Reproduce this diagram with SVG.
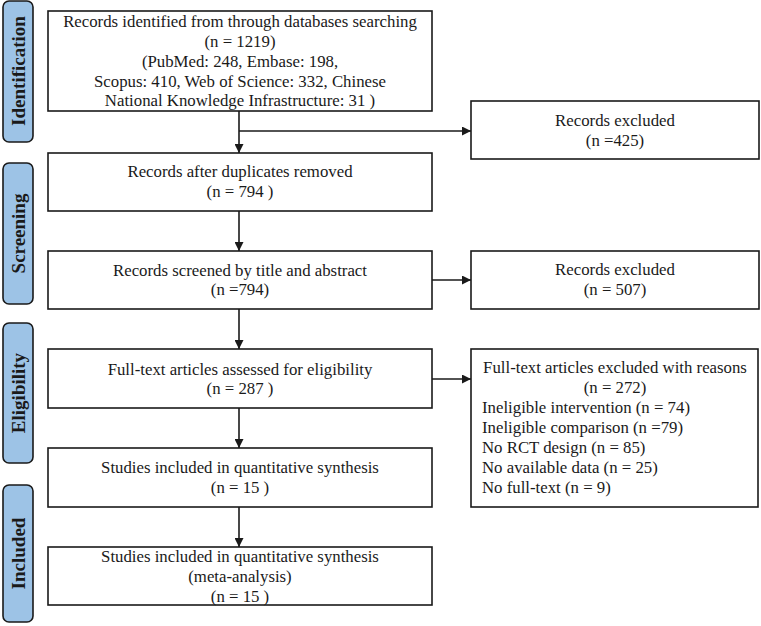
<svg xmlns="http://www.w3.org/2000/svg" width="761" height="626" viewBox="0 0 761 626">
<defs>
<style>
.box{fill:#fff;stroke:#1a1a1a;stroke-width:1.6}
.bar{fill:#9DC3E6;stroke:#1a1a1a;stroke-width:1.6}
.t{font-family:"Liberation Serif","Times New Roman",serif;font-size:16.8px;fill:#1a1a1a}
.c{text-anchor:middle}
.bt{font-family:"Liberation Serif","Times New Roman",serif;font-size:19px;font-weight:bold;fill:#1a1a1a;text-anchor:middle}
.ln{fill:none;stroke:#1a1a1a;stroke-width:1.6}
</style>
<marker id="ah" viewBox="0 0 10 10" refX="10" refY="5" markerWidth="9" markerHeight="9" markerUnits="userSpaceOnUse" orient="auto">
<path d="M0,0 L10,5 L0,10 Z" fill="#1a1a1a"/>
</marker>
</defs>
<rect width="761" height="626" fill="#fff"/>

<g id="phase-identification">
<rect class="bar" x="3" y="1" width="30" height="141" rx="6"/>
<text class="bt" transform="translate(25,71) rotate(-90)">Identification</text>
</g>
<g id="phase-screening">
<rect class="bar" x="3" y="163" width="30" height="141" rx="6"/>
<text class="bt" transform="translate(25,233.5) rotate(-90)">Screening</text>
</g>
<g id="phase-eligibility">
<rect class="bar" x="3" y="323" width="30" height="140" rx="6"/>
<text class="bt" transform="translate(25,393) rotate(-90)">Eligibility</text>
</g>
<g id="phase-included">
<rect class="bar" x="3" y="485" width="30" height="137" rx="6"/>
<text class="bt" transform="translate(25,553.5) rotate(-90)">Included</text>
</g>

<g id="connectors">
<line class="ln" x1="239" y1="111" x2="239" y2="153" marker-end="url(#ah)"/>
<line class="ln" x1="239" y1="131" x2="471" y2="131" marker-end="url(#ah)"/>
<line class="ln" x1="239" y1="211" x2="239" y2="251" marker-end="url(#ah)"/>
<line class="ln" x1="432" y1="280" x2="471" y2="280" marker-end="url(#ah)"/>
<line class="ln" x1="239" y1="309" x2="239" y2="349" marker-end="url(#ah)"/>
<line class="ln" x1="432" y1="379" x2="471" y2="379" marker-end="url(#ah)"/>
<line class="ln" x1="239" y1="408" x2="239" y2="448" marker-end="url(#ah)"/>
<line class="ln" x1="239" y1="507" x2="239" y2="547" marker-end="url(#ah)"/>
</g>

<g id="identified">
<rect class="box" x="48" y="11" width="384" height="100"/>
<text class="t c" x="240" y="27">Records identified from through databases searching</text>
<text class="t c" x="240" y="47">(n = 1219)</text>
<text class="t c" x="240" y="67">(PubMed: 248, Embase: 198,</text>
<text class="t c" x="240" y="87">Scopus: 410, Web of Science: 332, Chinese</text>
<text class="t c" x="240" y="106">National Knowledge Infrastructure: 31 )</text>
</g>
<g id="excluded-425">
<rect class="box" x="471" y="101" width="288" height="58"/>
<text class="t c" x="615" y="126">Records excluded</text>
<text class="t c" x="615" y="146">(n =425)</text>
</g>
<g id="dedup">
<rect class="box" x="48" y="153" width="384" height="58"/>
<text class="t c" x="240" y="177">Records after duplicates removed</text>
<text class="t c" x="240" y="197">(n = 794 )</text>
</g>
<g id="screened">
<rect class="box" x="48" y="251" width="384" height="58"/>
<text class="t c" x="240" y="276">Records screened by title and abstract</text>
<text class="t c" x="240" y="295">(n =794)</text>
</g>
<g id="excluded-507">
<rect class="box" x="471" y="251" width="288" height="58"/>
<text class="t c" x="615" y="275">Records excluded</text>
<text class="t c" x="615" y="295">(n = 507)</text>
</g>
<g id="fulltext">
<rect class="box" x="48" y="349" width="384" height="59"/>
<text class="t c" x="240" y="375">Full-text articles assessed for eligibility</text>
<text class="t c" x="240" y="394">(n = 287 )</text>
</g>
<g id="excluded-reasons">
<rect class="box" x="471" y="349" width="287" height="158"/>
<text class="t c" x="615" y="373">Full-text articles excluded with reasons</text>
<text class="t c" x="615" y="393">(n = 272)</text>
<text class="t" x="482" y="413">Ineligible intervention (n = 74)</text>
<text class="t" x="482" y="433">Ineligible comparison (n =79)</text>
<text class="t" x="482" y="453">No RCT design (n = 85)</text>
<text class="t" x="482" y="473">No available data (n = 25)</text>
<text class="t" x="482" y="493">No full-text (n = 9)</text>
</g>
<g id="quantitative">
<rect class="box" x="48" y="448" width="384" height="59"/>
<text class="t c" x="240" y="473">Studies included in quantitative synthesis</text>
<text class="t c" x="240" y="493">(n = 15 )</text>
</g>
<g id="meta-analysis">
<rect class="box" x="48" y="547" width="384" height="58"/>
<text class="t c" x="240" y="562">Studies included in quantitative synthesis</text>
<text class="t c" x="240" y="582">(meta-analysis)</text>
<text class="t c" x="240" y="602">(n = 15 )</text>
</g>
</svg>
